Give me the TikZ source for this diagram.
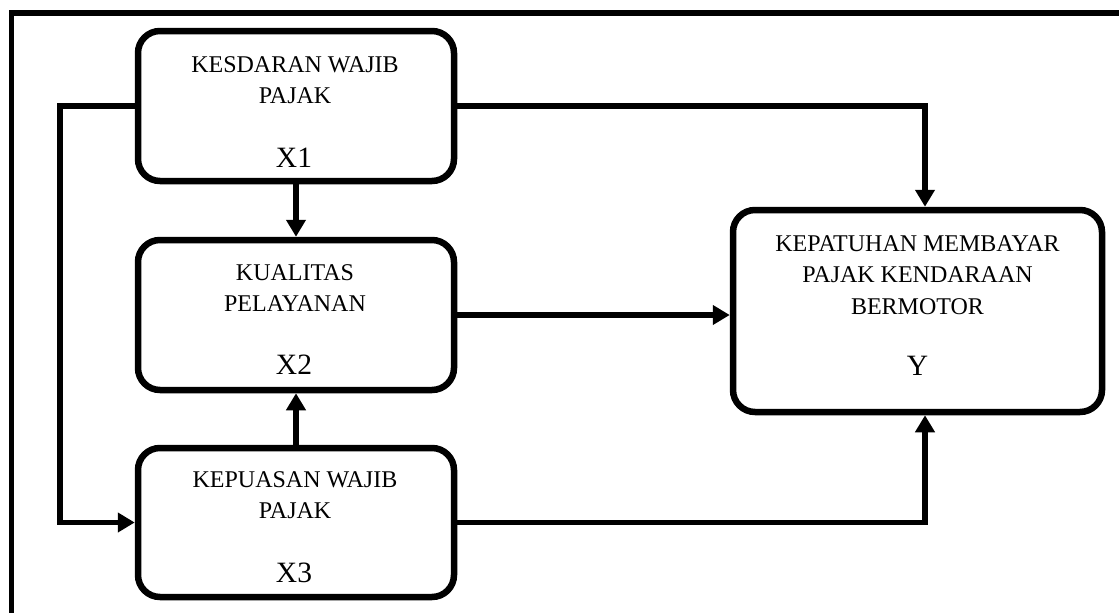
\documentclass[tikz,border=0pt]{standalone}
\usepackage{fontspec}
\setmainfont{Liberation Serif}
\usetikzlibrary{arrows.meta}
\begin{document}
\begin{tikzpicture}[x=1pt,y=-1pt,
  box/.style={draw, line width=6.5pt, rounded corners=22pt, inner sep=0pt},
  lbl/.style={anchor=base, inner sep=0pt, font=\fontsize{24}{28}\selectfont},
  var/.style={anchor=base, inner sep=0pt, font=\fontsize{29.5}{34}\selectfont},
  conn/.style={line width=5.5pt, -{Triangle[width=19pt,length=17pt]}}]
\useasboundingbox (0,0) rectangle (1119,613);
\begin{scope}
\clip (0,0) rectangle (1119,613);
\draw[line width=5.5pt] (11.5,13) rectangle (1140,640);
\end{scope}
% boxes
\node[box, minimum width=316pt, minimum height=150pt] (x1) at (296,106) {};
\node[box, minimum width=316pt, minimum height=150pt] (x2) at (296,315) {};
\node[box, minimum width=316pt, minimum height=149pt] (x3) at (296,522.5) {};
\node[box, minimum width=369pt, minimum height=202pt] (y) at (917.5,311) {};
% texts
\node[lbl] (t1a) at (295,72) {KESDARAN WAJIB};
\node[lbl] (t1b) at (295,103) {PAJAK};
\node[var] (t1c) at (294,167) {X1};
\node[lbl] (t2a) at (295,280) {KUALITAS};
\node[lbl] (t2b) at (295,311) {PELAYANAN};
\node[var] (t2c) at (294,374) {X2};
\node[lbl] (t3a) at (295,487) {KEPUASAN WAJIB};
\node[lbl] (t3b) at (295,518) {PAJAK};
\node[var] (t3c) at (294,582) {X3};
\node[lbl] (tya) at (917.5,251) {KEPATUHAN MEMBAYAR};
\node[lbl] (tyb) at (917.5,282) {PAJAK KENDARAAN};
\node[lbl] (tyc) at (917.5,314) {BERMOTOR};
\node[var] (tyd) at (917.5,375) {Y};
% connectors
\coordinate (lp) at (60,106);
\draw[conn] (x1.south) -- (x2.north);
\draw[conn] (x3.north) -- (x2.south);
\draw[conn] (x1.west) -- (lp) |- (x3.west);
\draw[conn] (x1.east) -| ([xshift=7.5pt]y.north);
\draw[conn] (x2.east) -- (x2.east -| y.west);
\draw[conn] (x3.east) -| ([xshift=7.5pt]y.south);
\end{tikzpicture}
\end{document}
